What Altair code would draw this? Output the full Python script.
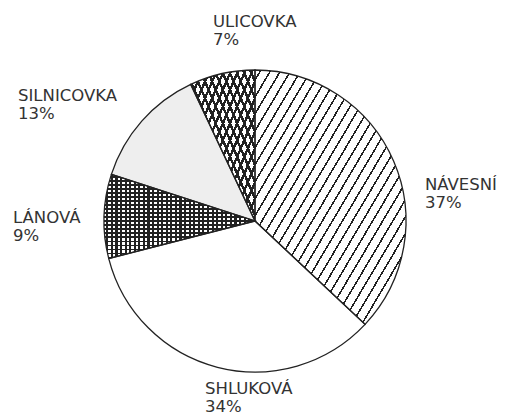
import altair as alt
import pandas as pd

# ---- data ----
categories = ["NÁVESNÍ", "SHLUKOVÁ", "LÁNOVÁ", "SILNICOVKA", "ULICOVKA"]
shares = [37, 34, 9, 13, 7]

# label placement (chart pixels: left edge, first baseline)
label_x = [417, 197, 5, 10, 205]
label_y = [182, 386, 215, 93, 19]

df = pd.DataFrame({"cat": categories, "value": shares, "order": list(range(len(categories)))})
lab = pd.DataFrame({
    "text": [f"{c}\n{v}%" for c, v in zip(categories, shares)],
    "lx": label_x,
    "ly": label_y,
})

CX, CY, R = 247, 213, 151
INK = "#222222"
CLEAR = "rgba(255,255,255,0)"


def hatch(n, w, x1, y1, x2, y2, color=INK):
    stops = [alt.GradientStop(offset=0, color=CLEAR)]
    for k in range(n):
        a = (k + 0.5) / n
        b = min(a + w, 1.0)
        stops += [
            alt.GradientStop(offset=a, color=CLEAR),
            alt.GradientStop(offset=a, color=color),
            alt.GradientStop(offset=b, color=color),
            alt.GradientStop(offset=b, color=CLEAR),
        ]
    stops.append(alt.GradientStop(offset=1, color=CLEAR))
    return alt.LinearGradient(gradient="linear", stops=stops, x1=x1, y1=y1, x2=x2, y2=y2)


base = alt.Chart(df).encode(
    theta=alt.Theta("value:Q", stack=True),
    order=alt.Order("order:Q"),
    x=alt.value(CX),
    y=alt.value(CY),
)


def only(cat):
    return alt.condition(alt.datum.cat == cat, alt.value(1), alt.value(0))


fill_base = base.mark_arc(radius=R, fill="white", strokeWidth=0)

dots = base.mark_arc(radius=R, fill="#eeeeee", strokeWidth=0).encode(opacity=only("SILNICOVKA"))

navesni = base.mark_arc(radius=R, fill=hatch(30, 0.006, 0, 0, 1, 1), strokeWidth=0).encode(
    opacity=only("NÁVESNÍ"))

ulic1 = base.mark_arc(radius=R, fill=hatch(18, 0.02, 0, 0, 1, 1), strokeWidth=0).encode(
    opacity=only("ULICOVKA"))
ulic2 = base.mark_arc(radius=R, fill=hatch(18, 0.02, 1, 0, 0, 1), strokeWidth=0).encode(
    opacity=only("ULICOVKA"))

lan1 = base.mark_arc(radius=R, fill=hatch(33, 0.014, 0, 0, 1, 0), strokeWidth=0).encode(
    opacity=only("LÁNOVÁ"))
lan2 = base.mark_arc(radius=R, fill=hatch(21, 0.022, 0, 0, 0, 1), strokeWidth=0).encode(
    opacity=only("LÁNOVÁ"))

outline = base.mark_arc(radius=R, fillOpacity=0, stroke=INK, strokeWidth=1.3)

text = alt.Chart(lab).mark_text(
    align="left", baseline="alphabetic", lineBreak="\n", lineHeight=18,
    font="DejaVu Sans", fontSize=16.5, color="#333333",
).encode(
    x=alt.X("lx:Q", scale=None, axis=None),
    y=alt.Y("ly:Q", scale=None, axis=None),
    text="text:N",
)

chart = alt.layer(
    fill_base, dots, navesni, ulic1, ulic2, lan1, lan2, outline, text
).properties(
    width=489, height=408, padding=0, autosize=alt.AutoSizeParams(type="none"),
).configure_view(stroke=None)

chart.save("out.html", embed_options={"renderer": "svg", "actions": False})
